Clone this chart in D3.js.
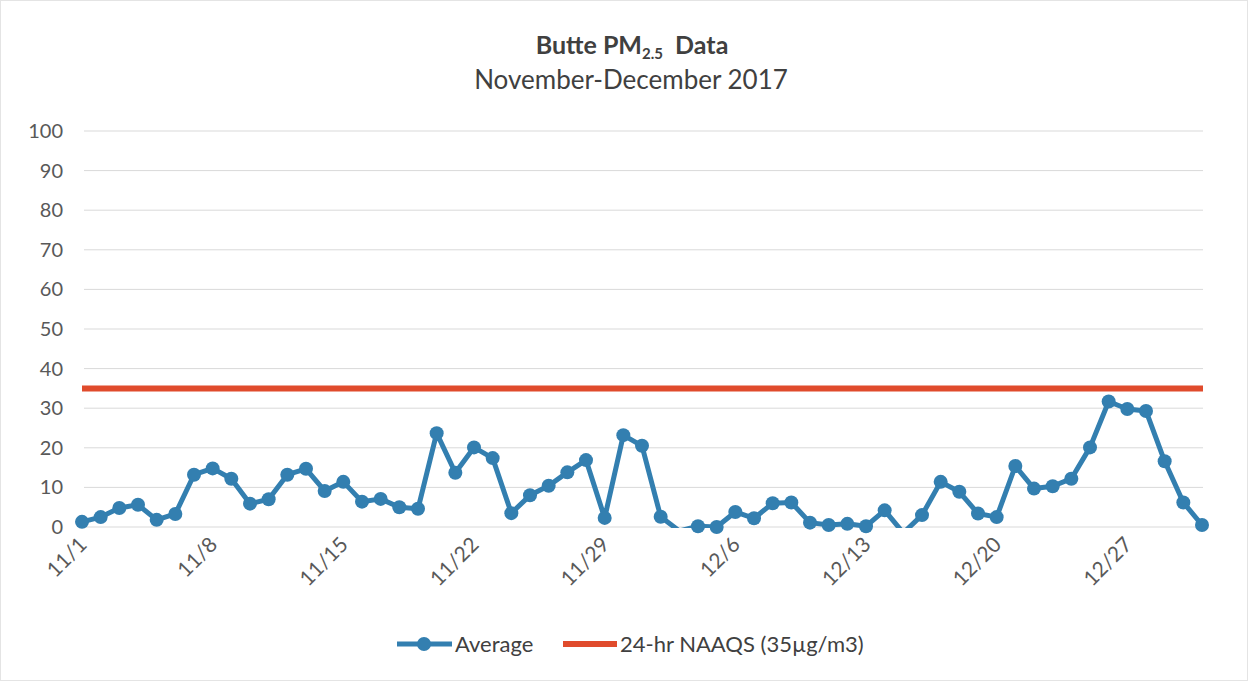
<!DOCTYPE html>
<html>
<head>
<meta charset="utf-8">
<script src="https://cdn.jsdelivr.net/npm/d3@7"></script>
<style>
  body { margin: 0; background: #fff; }
  text { font-family: Lato, "Open Sans", sans-serif; fill: #404040; }
</style>
</head>
<body>
<svg width="1248" height="681"></svg>
<script>
// daily average PM2.5, 11/1 .. 12/31 2017 (negative values fall below the axis)
novValues = [1.3, 2.5, 4.8, 5.6, 1.8, 3.3, 13.2, 14.8, 12.2, 5.9,
  7.0, 13.2, 14.7, 9.1, 11.4, 6.4, 7.1, 5.0, 4.6, 23.7,
  13.7, 20.1, 17.4, 3.5, 8.0, 10.4, 13.8, 16.9, 2.3, 23.2];
decValues = [20.5, 2.6, -1.0, 0.2, 0.0, 3.8, 2.2, 6.0, 6.2, 1.1,
  0.5, 0.8, 0.2, 4.2, -1.5, 3.0, 11.4, 8.9, 3.4, 2.5,
  15.4, 9.7, 10.3, 12.2, 20.1, 31.7, 29.8, 29.3, 16.6, 6.2, 0.5];
naaqs = 35;
yTicks = [0, 10, 20, 30, 40, 50, 60, 70, 80, 90, 100];
seriesNames = ["Average", "24-hr NAAQS (35\u00b5g/m3)"];

const start = new Date(2017, 10, 1);
const data = novValues.concat(decValues).map((v, i) => ({
  date: d3.timeDay.offset(start, i), value: v
}));

const blue = "#337fb0", red = "#e04b2c";
const svg = d3.select("svg");

const x = d3.scaleTime()
  .domain([start, new Date(2017, 11, 31)])
  .range([82, 1202]);
const y = d3.scaleLinear().domain([0, 100]).range([527, 131]);

// border
svg.append("rect").attr("x", 0.5).attr("y", 0.5).attr("width", 1247).attr("height", 680)
  .attr("fill", "none").attr("stroke", "#e4e4e4");

// title
const title = svg.append("text").attr("x", 632).attr("y", 54)
  .attr("text-anchor", "middle").style("font-size", "25px").style("font-weight", "bold");
title.append("tspan").text("Butte PM");
title.append("tspan").text("2.5").attr("dy", 5).style("font-size", "15px");
title.append("tspan").text("\u00a0 Data").attr("dy", -5);
svg.append("text").attr("x", 631).attr("y", 89).attr("text-anchor", "middle")
  .style("font-size", "26px").text("November-December 2017");

// gridlines
svg.append("g").selectAll("line").data(yTicks).enter().append("line")
  .attr("x1", 84).attr("x2", 1203)
  .attr("y1", d => y(d)).attr("y2", d => y(d))
  .attr("stroke", "#d9d9d9").attr("stroke-width", 1);

svg.append("g").selectAll("text").data(yTicks).enter().append("text")
  .attr("x", 63).attr("y", d => y(d) + 7).attr("text-anchor", "end")
  .style("font-size", "20px").style("fill", "#595959").text(d => d);

// x axis labels
const xTicks = d3.timeDay.range(start, new Date(2017, 11, 31), 7);
const fmt = d3.timeFormat("%-m/%-d");
svg.append("g").selectAll("text").data(xTicks).enter().append("text")
  .attr("transform", d => `translate(${x(d) + 6},${546}) rotate(-45)`)
  .attr("text-anchor", "end").style("font-size", "21px").style("fill", "#595959")
  .text(d => fmt(d));

// NAAQS line
svg.append("line")
  .attr("x1", x.range()[0]).attr("x2", x.range()[1] + 1)
  .attr("y1", y(naaqs)).attr("y2", y(naaqs))
  .attr("stroke", red).attr("stroke-width", 6);

// average series
svg.append("clipPath").attr("id", "plot").append("rect")
  .attr("x", 60).attr("y", 100).attr("width", 1170).attr("height", 428);

svg.append("path").datum(data)
  .attr("clip-path", "url(#plot)")
  .attr("fill", "none").attr("stroke", blue).attr("stroke-width", 5)
  .attr("stroke-linejoin", "round")
  .attr("d", d3.line().x(d => x(d.date)).y(d => y(d.value)));

svg.append("g").selectAll("circle").data(data.filter(d => d.value >= 0)).enter()
  .append("circle")
  .attr("cx", d => x(d.date)).attr("cy", d => y(d.value)).attr("r", 7)
  .attr("fill", blue);

// legend
const lg = svg.append("g");
lg.append("line").attr("x1", 397).attr("x2", 452).attr("y1", 644).attr("y2", 644)
  .attr("stroke", blue).attr("stroke-width", 5);
lg.append("circle").attr("cx", 424).attr("cy", 644).attr("r", 7).attr("fill", blue);
lg.append("text").attr("x", 455).attr("y", 652).style("font-size", "22px").text(seriesNames[0]);
lg.append("line").attr("x1", 563).attr("x2", 617).attr("y1", 644).attr("y2", 644)
  .attr("stroke", red).attr("stroke-width", 6);
lg.append("text").attr("x", 620).attr("y", 652).style("font-size", "22px").text(seriesNames[1]);
</script>
</body>
</html>
